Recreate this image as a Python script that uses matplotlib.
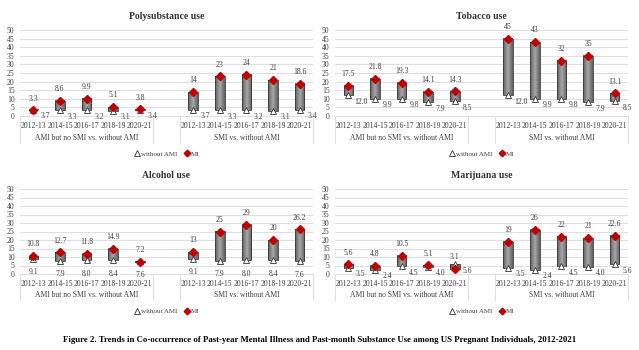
import matplotlib
matplotlib.use('Agg')
import matplotlib.pyplot as plt
from matplotlib.colors import LinearSegmentedColormap
import numpy as np

plt.rcParams['font.family'] = ['Liberation Serif', 'DejaVu Serif']

# данные
years = ['2012-13', '2014-15', '2016-17', '2018-19', '2020-21']
groups = ['AMI but no SMI vs. without AMI', 'SMI vs. without AMI']

poly_mi_ami = [3.3, 8.6, 9.9, 5.1, 3.8]
poly_mi_smi = [14, 23, 24, 21, 18.6]
poly_without = [3.7, 3.3, 3.2, 3.1, 3.4]

tob_mi_ami = [17.5, 21.8, 19.3, 14.1, 14.3]
tob_mi_smi = [45, 43, 32, 35, 13.1]
tob_without = [12.0, 9.9, 9.8, 7.9, 8.5]

alc_mi_ami = [10.8, 12.7, 11.8, 14.9, 7.2]
alc_mi_smi = [13, 25, 29, 20, 26.2]
alc_without = [9.1, 7.9, 8.0, 8.4, 7.6]

mj_mi_ami = [5.6, 4.8, 10.5, 5.1, 3.1]
mj_mi_smi = [19, 26, 22, 21, 22.6]
mj_without = [3.5, 2.4, 4.5, 4.0, 5.6]

caption = ('Figure 2. Trends in Co-occurrence of Past-year Mental Illness and '
           'Past-month Substance Use among US Pregnant Individuals, 2012-2021')

W, H = 639, 350
GRID = '#d9d9d9'
TXT = '#404040'
BAR_W = 0.36

# серый градиент как у up/down bars в Excel: темнее по краям, светлее в центре
bar_cmap = LinearSegmentedColormap.from_list('bar', ['#5e5e5e', '#a8a8a8', '#5e5e5e'])
grad = np.linspace(0, 1, 64).reshape(1, -1)


def draw_panel(ax, title, mi_ami, mi_smi, without, wo_pos):
    """Одна панель: плавающие столбцы между 'without AMI' и 'MI'"""
    x = np.concatenate([np.arange(5), np.arange(6, 11)])
    mi = np.array(mi_ami + mi_smi, dtype=float)
    wo = np.array(without + without, dtype=float)
    lo = np.minimum(mi, wo)
    hi = np.maximum(mi, wo)

    bars = ax.bar(x, hi - lo, bottom=lo, width=BAR_W, facecolor='none',
                  edgecolor='#3a3a3a', linewidth=0.6, zorder=2.5)
    for b in bars:
        x0, y0 = b.get_x(), b.get_y()
        ax.imshow(grad, cmap=bar_cmap, aspect='auto', zorder=2,
                  extent=(x0, x0 + b.get_width(), y0, y0 + b.get_height()))

    ax.plot(x, wo, ls='none', marker='^', ms=5, mfc='white', mec='#333333',
            mew=0.6, zorder=3, label='without AMI')
    ax.plot(x, mi, ls='none', marker='D', ms=4.2, color='#c00000',
            zorder=4, label='MI')

    for xi, v in zip(x, mi):
        ax.annotate(f'{v:g}', (xi, v), xytext=(0, 8.5), textcoords='offset points',
                    ha='center', va='center', fontsize=5.5, color=TXT)
    for xi, v in zip(x, wo):
        if wo_pos == 'right':
            off = (9, -4.5)
        else:
            off = (0, -10)
        ax.annotate(f'{v:.1f}', (xi, v), xytext=off, textcoords='offset points',
                    ha='center', va='center', fontsize=5.5, color=TXT)

    ax.set_xlim(-0.5, 10.5)
    ax.set_ylim(0, 50)
    ax.set_yticks(np.arange(0, 51, 5))
    ax.tick_params(axis='y', length=0, pad=4, labelsize=5.5, labelcolor=TXT)
    ax.set_xticks(x)
    ax.set_xticklabels(years + years)
    ax.tick_params(axis='x', length=0, pad=4, labelsize=5.5, labelcolor=TXT)
    ax.grid(axis='y', color=GRID, linewidth=0.6, zorder=0)
    ax.set_axisbelow(True)
    for s in ['top', 'right', 'left']:
        ax.spines[s].set_visible(False)
    ax.spines['bottom'].set_color(GRID)
    ax.spines['bottom'].set_linewidth(0.6)

    tr = ax.get_xaxis_transform()
    # подписи групп и разделители
    for gx, g in zip([2, 8], groups):
        ax.text(gx, -0.25, g, transform=tr, ha='center', va='center',
                fontsize=5.5, color=TXT)
    for bx in [-0.5, 4.5, 5.5, 10.5]:
        ax.plot([bx, bx], [0, -0.31], transform=tr, color=GRID, lw=0.6,
                clip_on=False)

    ax.text(0.5, 1.16, title, transform=ax.transAxes, ha='center', va='center',
            fontsize=7, fontweight='bold', color='#333333')
    ax.legend(loc='center', bbox_to_anchor=(0.5, -0.44), ncol=2, frameon=False,
              fontsize=5, handletextpad=0.1, columnspacing=0.8, markerscale=0.8,
              handlelength=1.0, labelcolor=TXT)


fig = plt.figure(figsize=(W / 100, H / 100), dpi=100)
fig.patch.set_facecolor('white')

def add_ax(x0, x1, ytop, ybot):
    return fig.add_axes([x0 / W, 1 - ybot / H, (x1 - x0) / W, (ybot - ytop) / H])

ax1 = add_ax(20, 313, 30, 116)
ax2 = add_ax(335, 628, 30, 116)
ax3 = add_ax(20, 313, 189, 274)
ax4 = add_ax(335, 628, 189, 274)

draw_panel(ax1, 'Polysubstance use', poly_mi_ami, poly_mi_smi, poly_without, 'right')
draw_panel(ax2, 'Tobacco use', tob_mi_ami, tob_mi_smi, tob_without, 'right')
draw_panel(ax3, 'Alcohol use', alc_mi_ami, alc_mi_smi, alc_without, 'below')
draw_panel(ax4, 'Marijuana use', mj_mi_ami, mj_mi_smi, mj_without, 'right')

fig.text(0.5, 1 - 340 / H, caption, ha='center', va='center', fontsize=6.3,
         fontweight='bold', color='black')

fig.savefig('out.png', dpi=100)
